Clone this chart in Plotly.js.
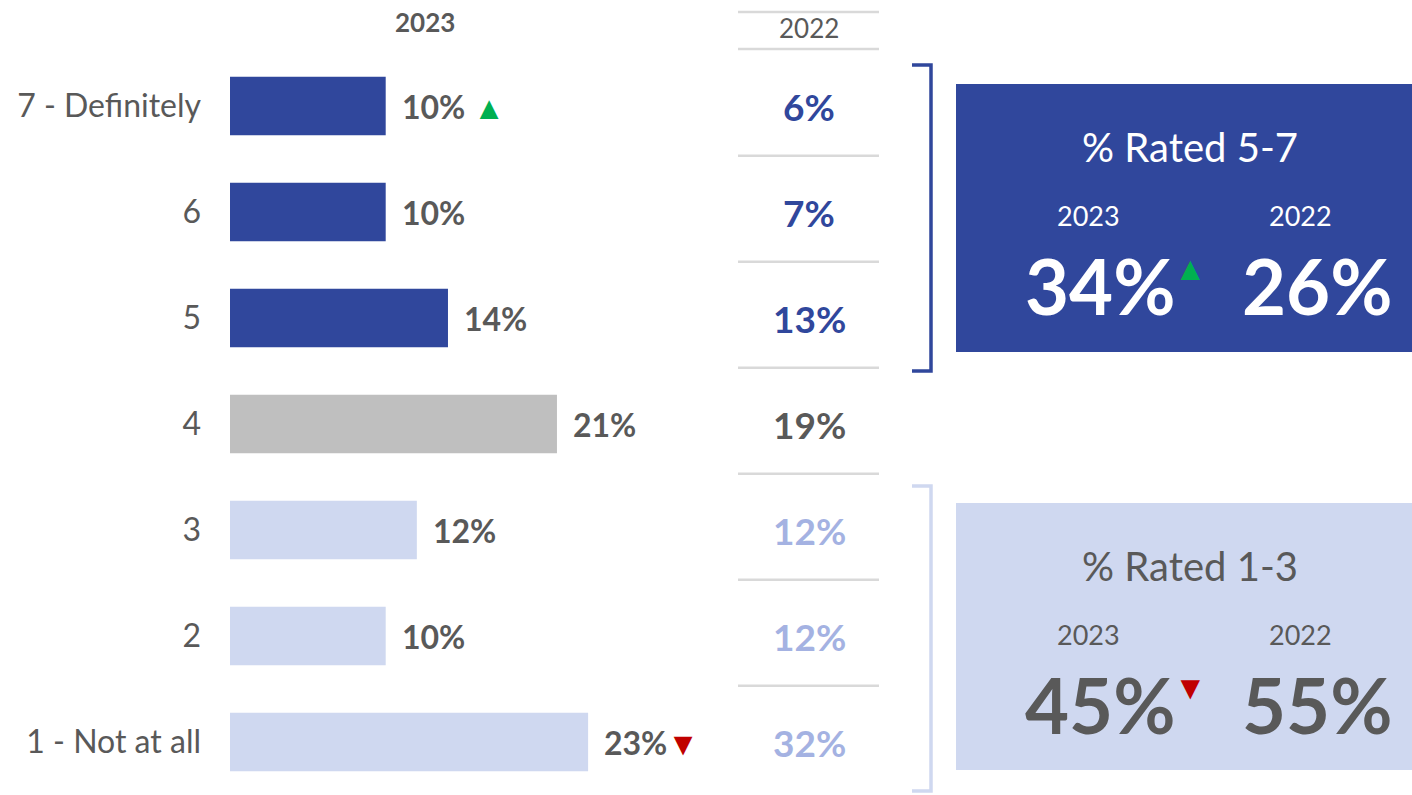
<!DOCTYPE html>
<html><head><meta charset="utf-8">
<script src="https://cdn.plot.ly/plotly-3.0.1.min.js"></script>
<style>html,body{margin:0;padding:0;background:#fff}</style>
</head><body>
<div id="chart" style="width:1412px;height:795px"></div>
<script>
const categories = ['7 - Definitely','6','5','4','3','2','1 - Not at all'];
const values2023 = [10,10,14,21,12,10,23];
const values2022 = [6,7,13,19,12,12,32];
const change2023 = ['up','','','','','','down'];
const groups = ['top','top','top','mid','low','low','low'];
const topLabel = '% Rated 5-7';
const lowLabel = '% Rated 1-3';
const top2023 = 34, top2022 = 26, topChange = 'up';
const low2023 = 45, low2022 = 55, lowChange = 'down';
const yearNow = '2023', yearPrev = '2022';

const W = 1412, H = 795, MT = 53;
const px = x => x / W;
const py = y => 1 - (y - MT) / (H - MT);
const DARK = '#30479C', GREY = '#BFBFBF', LIGHT = '#CFD8F0', TXT = '#595959';
const barColor = {top: DARK, mid: GREY, low: LIGHT};
const prevColor = {top: DARK, mid: TXT, low: '#A4B2E2'};
const UP = '<span style="color:#00B050">▲</span>';
const DOWN = '<span style="color:#C00000">▼</span>';
const FONT = 'Lato, "Open Sans", sans-serif';

const idx = categories.map((c, i) => i);

const trace = {
  type: 'bar', orientation: 'h',
  x: values2023, y: idx,
  width: 0.55,
  marker: {color: groups.map(g => barColor[g])},
  hoverinfo: 'skip'
};

const annotations = [];
function paperText(x, y, text, size, color, xanchor) {
  annotations.push({x: px(x), y: py(y), xref: 'paper', yref: 'paper', text: text, showarrow: false,
    xanchor: xanchor || 'center', yanchor: 'middle', font: {family: FONT, size: size, color: color}});
}
values2023.forEach((v, i) => {
  let t = v + '%';
  if (change2023[i] === 'up') t += ' ' + UP;
  if (change2023[i] === 'down') t += DOWN;
  annotations.push({x: v, y: i, xref: 'x', yref: 'y', text: t, showarrow: false,
    xanchor: 'left', yanchor: 'middle', xshift: 14, font: {family: FONT, size: 32, color: TXT, weight: 'bold'}});
});
values2022.forEach((v, i) => {
  annotations.push({x: px(809), y: i, xref: 'paper', yref: 'y', text: '<b>' + v + '%</b>', showarrow: false,
    xanchor: 'center', yanchor: 'middle', font: {family: FONT, size: 37, color: prevColor[groups[i]]}});
});
paperText(425, 22, '<b>' + yearNow + '</b>', 26, TXT);
paperText(809, 28, yearPrev, 26, TXT);

function boxTexts(yTop, label, v23, v22, chg, color) {
  paperText(1190, yTop + 63, label, 40, color);
  paperText(1088, yTop + 131, yearNow, 27, color);
  paperText(1300, yTop + 131, yearPrev, 27, color);
  paperText(1100, yTop + 201, '<b>' + v23 + '%</b>', 76, color);
  paperText(1317, yTop + 201, '<b>' + v22 + '%</b>', 76, color);
  paperText(1172, yTop + 183, chg === 'up' ? UP : DOWN, 33, color, 'left');
}
boxTexts(84, topLabel, top2023, top2022, topChange, '#FFFFFF');
boxTexts(503, lowLabel, low2023, low2022, lowChange, TXT);

const shapes = [];
const lineStyle = {color: '#D9D9D9', width: 2.5};
[12, 49].forEach(y => shapes.push({type: 'line', xref: 'paper', yref: 'paper', x0: px(738), x1: px(879), y0: py(y), y1: py(y), line: lineStyle}));
for (let i = 0; i < categories.length - 1; i++) {
  shapes.push({type: 'line', xref: 'paper', yref: 'y', x0: px(738), x1: px(879), y0: i + 0.47, y1: i + 0.47, line: lineStyle});
}
function bracket(y0, y1, color) {
  shapes.push({type: 'path', xref: 'paper', yref: 'paper', line: {color: color, width: 3.5},
    path: `M ${px(912)} ${py(y0)} L ${px(931)} ${py(y0)} L ${px(931)} ${py(y1)} L ${px(912)} ${py(y1)}`});
}
bracket(65, 371, DARK);
bracket(486, 791, LIGHT);
shapes.push({type: 'rect', xref: 'paper', yref: 'paper', x0: px(956), x1: px(1412), y0: py(84), y1: py(352), fillcolor: DARK, line: {width: 0}, layer: 'below'});
shapes.push({type: 'rect', xref: 'paper', yref: 'paper', x0: px(956), x1: px(1412), y0: py(503), y1: py(770), fillcolor: LIGHT, line: {width: 0}, layer: 'below'});

const layout = {
  width: W, height: H,
  margin: {l: 0, r: 0, t: MT, b: 0, pad: 0},
  paper_bgcolor: '#fff', plot_bgcolor: '#fff',
  showlegend: false,
  xaxis: {domain: [px(230), px(730)], range: [0, 500 / 15.57], visible: false, fixedrange: true},
  yaxis: {range: [6.5, -0.5], tickvals: idx, ticktext: categories, ticks: '', showgrid: false, zeroline: false,
    showline: false, ticklabelstandoff: 28, tickfont: {family: FONT, size: 32, color: TXT}, fixedrange: true},
  annotations: annotations,
  shapes: shapes
};

Plotly.newPlot('chart', [trace], layout, {displayModeBar: false, staticPlot: true});
</script>
</body></html>
